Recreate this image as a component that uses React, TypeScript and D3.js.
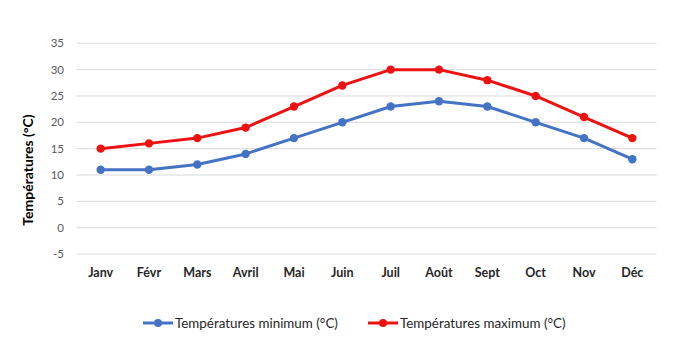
import React from "react";
import * as d3 from "d3";

const months = ["Janv", "Févr", "Mars", "Avril", "Mai", "Juin", "Juil", "Août", "Sept", "Oct", "Nov", "Déc"];
const minTemps = [11, 11, 12, 14, 17, 20, 23, 24, 23, 20, 17, 13];
const maxTemps = [15, 16, 17, 19, 23, 27, 30, 30, 28, 25, 21, 17];
const yTicks = [-5, 0, 5, 10, 15, 20, 25, 30, 35];
const seriesNames = ["Températures minimum (°C)", "Températures maximum (°C)"];
const seriesColors = ["#4472C4", "#EE1111"];

export default function App() {
  const W = 700, H = 338;
  const x = d3.scaleBand<string>().domain(months).range([76.5, 656.5]);
  const y = d3.scaleLinear().domain([-5, 35]).range([254, 43.3]);
  const line = d3.line<number>().x((_, i) => (x(months[i]) as number) + x.bandwidth() / 2).y((d) => y(d));
  const font = "Lato, 'Open Sans', sans-serif";
  const series = [minTemps, maxTemps];
  const legendX = [143, 368];
  return (
    <svg width={W} height={H} style={{ position: "absolute", left: 0, top: 0, background: "#fff" }} fontFamily={font}>
      {yTicks.map((t) => (
        <g key={t}>
          <line x1={76.5} x2={656.5} y1={y(t)} y2={y(t)} stroke="#D9D9D9" strokeWidth={1} />
          <text x={64} y={y(t)} dy="0.35em" textAnchor="end" fontSize={11.5} fill="#595959">{t}</text>
        </g>
      ))}
      {months.map((m) => (
        <text key={m} x={(x(m) as number) + x.bandwidth() / 2} y={273} dy="0.35em" textAnchor="middle" fontSize={12.5} fontWeight="bold" fill="#262626">{m}</text>
      ))}
      <text transform="translate(28,170) rotate(-90)" textAnchor="middle" dy="0.35em" fontSize={14} fontWeight="bold" fill="#000">Températures (°C)</text>
      {series.map((s, si) => (
        <g key={si}>
          <path d={line(s) as string} fill="none" stroke={seriesColors[si]} strokeWidth={3} strokeLinejoin="round" />
          {s.map((v, i) => (
            <circle key={i} cx={(x(months[i]) as number) + x.bandwidth() / 2} cy={y(v)} r={4.2} fill={seriesColors[si]} />
          ))}
        </g>
      ))}
      {seriesNames.map((n, si) => (
        <g key={n}>
          <line x1={legendX[si]} x2={legendX[si] + 30} y1={323} y2={323} stroke={seriesColors[si]} strokeWidth={3} />
          <circle cx={legendX[si] + 15} cy={323} r={4} fill={seriesColors[si]} />
          <text x={legendX[si] + 32} y={323} dy="0.35em" fontSize={13.4} fill="#262626">{n}</text>
        </g>
      ))}
    </svg>
  );
}
